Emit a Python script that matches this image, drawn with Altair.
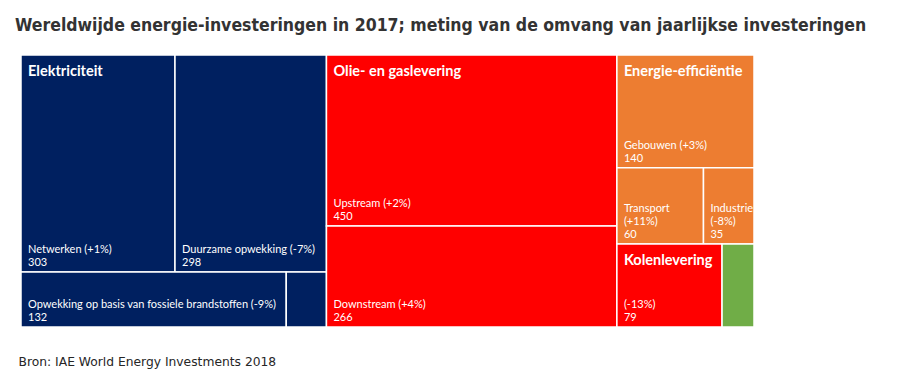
import altair as alt
import pandas as pd

# ---- data ----
names = ["Netwerken", "Duurzame opwekking", "Opwekking op basis van fossiele brandstoffen",
         "Kernenergie", "Upstream", "Downstream", "Gebouwen", "Transport", "Industrie",
         "Kolenlevering", "Overig"]
values = [303, 298, 132, 20, 450, 266, 140, 60, 35, 79, 24]
changes = ["+1%", "-7%", "-9%", "", "+2%", "+4%", "+3%", "+11%", "-8%", "-13%", ""]
cell_group = ["Elektriciteit", "Elektriciteit", "Elektriciteit", "Elektriciteit",
              "Olie- en gaslevering", "Olie- en gaslevering",
              "Energie-efficiëntie", "Energie-efficiëntie", "Energie-efficiëntie",
              "Kolenlevering", "Overig"]
show_name = [True, True, True, False, True, True, True, True, True, False, False]
wrap_label = [False, False, False, False, False, False, False, True, True, False, False]
group_names = ["Elektriciteit", "Olie- en gaslevering", "Energie-efficiëntie", "Kolenlevering", "Overig"]
group_headers = [True, True, True, True, False]
group_colors = ["#002060", "#FF0000", "#ED7D31", "#FF0000", "#70AD47"]

title = "Wereldwijde energie-investeringen in 2017; meting van de omvang van jaarlijkse investeringen"
source = "Bron: IAE World Energy Investments 2018"

# treemap structure (h = side by side, v = stacked), leaves are cell indices
structure = ("h", [
    ("v", [("h", [0, 1]), ("h", [2, 3])]),
    ("v", [4, 5]),
    ("v", [("v", [6, ("h", [7, 8])]), ("h", [9, 10])]),
])


def weight(node):
    if isinstance(node, int):
        return values[node]
    return sum(weight(c) for c in node[1])


rects = {}


def lay(node, x0, y0, x1, y1):
    if isinstance(node, int):
        rects[node] = (x0, y0, x1, y1)
        return
    d, children = node
    tot = weight(node)
    pos = x0 if d == "h" else y0
    for c in children:
        frac = weight(c) / tot
        if d == "h":
            nxt = pos + (x1 - x0) * frac
            lay(c, pos, y0, nxt, y1)
        else:
            nxt = pos + (y1 - y0) * frac
            lay(c, x0, pos, x1, nxt)
        pos = nxt


lay(structure, 0.0, 0.0, 1.0, 1.0)

cells, lines = [], []
for i, n in enumerate(names):
    x0, y0, x1, y1 = rects[i]
    cells.append(dict(name=n, group=cell_group[i], x0=x0, y0=y0, x1=x1, y1=y1))
    if values[i] < 30:
        continue
    if not show_name[i]:
        parts = [f"({changes[i]})", str(values[i])]
    elif wrap_label[i]:
        parts = [n, f"({changes[i]})", str(values[i])]
    else:
        parts = [f"{n} ({changes[i]})", str(values[i])]
    for k, p in enumerate(reversed(parts)):
        lines.append(dict(x0=x0, y1=y1, k=k, text=p))
cells = pd.DataFrame(cells)
lines = pd.DataFrame(lines)

groups = []
for g, h in zip(group_names, group_headers):
    sub = cells[cells.group == g]
    if h:
        groups.append(dict(group=g, x0=sub.x0.min(), y0=sub.y0.min()))
groups = pd.DataFrame(groups)

W, H = 733, 272
LH = 13

x_axis = alt.Axis(labels=False, ticks=False, domain=False, grid=False, title=source,
                  titleAnchor="start", titleAlign="left", titleBaseline="alphabetic",
                  titleFont="DejaVu Sans", titleFontSize=12.3, titleFontWeight="normal",
                  titleColor="#262626", titlePadding=38, titleX=-3)
x_enc = alt.X("x0:Q", scale=alt.Scale(domain=[0, 1], nice=False, zero=False), axis=x_axis)
y_scale = alt.Scale(domain=[0, 1], nice=False, zero=False, reverse=True)

color = alt.Color("group:N", scale=alt.Scale(domain=group_names, range=group_colors), legend=None)

rect = alt.Chart(cells).mark_rect(stroke="white", strokeWidth=1.5).encode(
    x=x_enc, x2="x1:Q",
    y=alt.Y("y0:Q", scale=y_scale, axis=None), y2="y1:Q",
    color=color,
)

label_layers = []
for k in range(3):
    label_layers.append(
        alt.Chart(lines).transform_filter(alt.datum.k == k).mark_text(
            align="left", baseline="alphabetic", dx=7, dy=-6 - LH * k,
            font="Lato", fontSize=11, color="white",
        ).encode(
            x=x_enc,
            y=alt.Y("y1:Q", scale=y_scale, axis=None),
            text="text:N",
        )
    )

headers = alt.Chart(groups).mark_text(
    align="left", baseline="top", dx=7, dy=10, font="Lato", fontSize=14.5,
    fontWeight="bold", color="white",
).encode(
    x=x_enc,
    y=alt.Y("y0:Q", scale=y_scale, axis=None),
    text="group:N",
)

chart = alt.layer(rect, *label_layers, headers).properties(
    width=W, height=H,
    title=alt.TitleParams(title, anchor="start", font="DejaVu Sans Condensed", fontSize=17.5,
                          fontWeight="bold", color="#333333", offset=20, dx=-3),
    autosize=alt.AutoSizeParams(type="none"),
    padding={"left": 13, "top": 47, "right": 140, "bottom": 42},
).configure_view(stroke=None)

chart.save("out.html", embed_options={"renderer": "svg", "actions": False})
